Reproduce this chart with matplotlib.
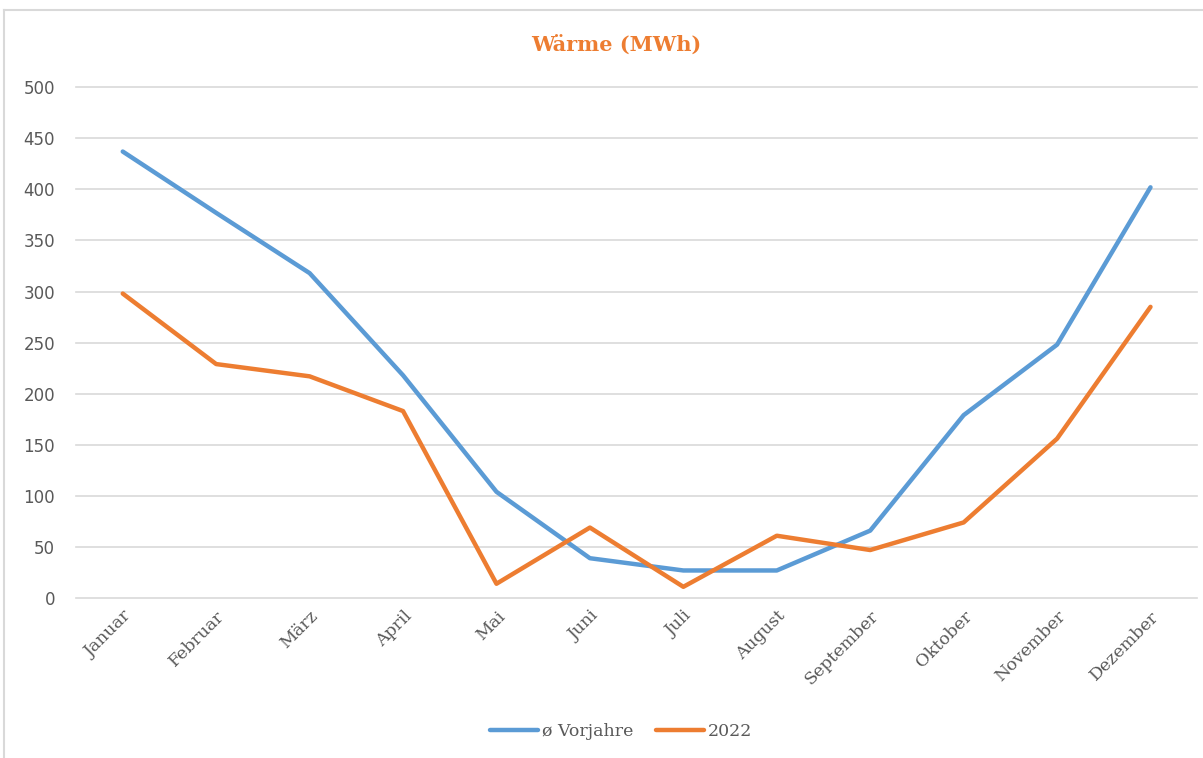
import matplotlib
matplotlib.use('Agg')
import matplotlib.pyplot as plt
from matplotlib.lines import Line2D

# monthly heat consumption (MWh)
monate = ['Januar', 'Februar', 'März', 'April', 'Mai', 'Juni', 'Juli',
          'August', 'September', 'Oktober', 'November', 'Dezember']
vorjahre = [437, 377, 318, 218, 104, 39, 27, 27, 66, 179, 248, 402]
jahr_2022 = [298, 229, 217, 183, 14, 69, 11, 61, 47, 74, 156, 285]
y_ticks = [0, 50, 100, 150, 200, 250, 300, 350, 400, 450, 500]

blue = '#5B9BD5'
orange = '#ED7D31'
grey = '#595959'

fig = plt.figure(figsize=(12.03, 7.58), dpi=100)
ax = fig.add_axes([0.0632, 0.211, 0.932, 0.674])

x = list(range(len(monate)))
ax.plot(x, vorjahre, color=blue, lw=3.2, label='ø Vorjahre', solid_capstyle='round')
ax.plot(x, jahr_2022, color=orange, lw=3.2, label='2022', solid_capstyle='round')

ax.set_xlim(-0.5, len(monate) - 0.5)
ax.set_ylim(0, 500)
ax.set_yticks(y_ticks)
ax.set_yticklabels([str(v) for v in y_ticks], fontsize=12, color=grey, family='DejaVu Sans')
ax.set_xticks(x)
ax.set_xticklabels(monate, rotation=45, ha='right', va='top', rotation_mode='anchor',
                   fontsize=12.5, color=grey, family='DejaVu Serif')
ax.tick_params(axis='both', length=0)
ax.tick_params(axis='y', pad=15)
ax.tick_params(axis='x', pad=7)
ax.grid(axis='y', color='#D9D9D9', lw=1.2)
for gl in ax.get_ygridlines():
    gl.set_clip_on(False)
ax.set_axisbelow(True)
for s in ax.spines.values():
    s.set_visible(False)

fig.text(0.512, 0.94, 'Wärme (MWh)', ha='center', va='center', fontsize=15,
         fontweight='bold', color=orange, family='DejaVu Serif')

leg = fig.legend(loc='center', bbox_to_anchor=(0.516, 0.035), ncol=2, frameon=False,
                 handlelength=2.8, columnspacing=1.3, handletextpad=0.2,
                 prop={'family': 'DejaVu Serif', 'size': 12.5})
for t in leg.get_texts():
    t.set_color(grey)

# chart frame
fig.add_artist(Line2D([4 / 1203, 1], [1 - 10 / 758, 1 - 10 / 758], color='#D9D9D9', lw=1.5))
fig.add_artist(Line2D([4 / 1203, 4 / 1203], [0, 1 - 10 / 758], color='#D9D9D9', lw=1.5))

fig.savefig('out.png', dpi=100)
